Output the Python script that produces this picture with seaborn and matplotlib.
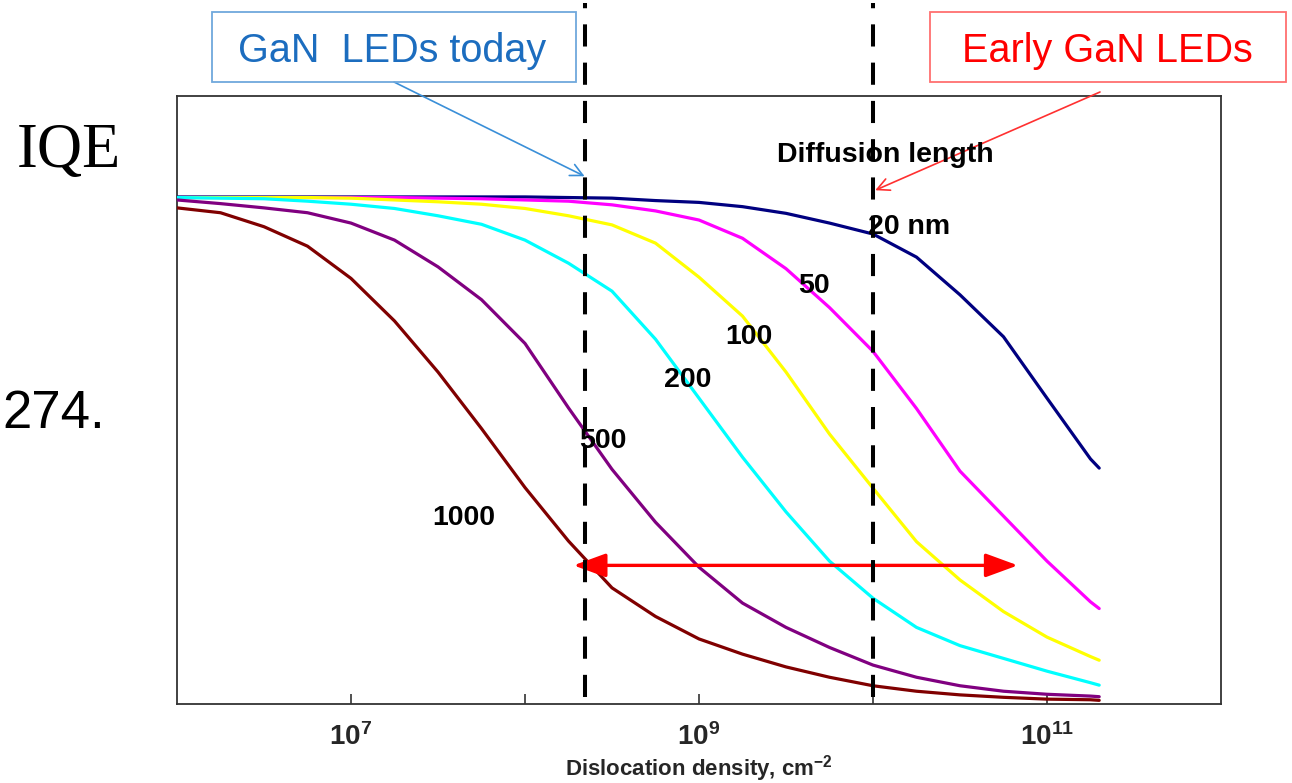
import numpy as np
import pandas as pd
import seaborn as sns
import matplotlib.pyplot as plt
from matplotlib.patches import Rectangle
from matplotlib.ticker import FixedLocator, NullLocator

# dislocation density grid (log10 of cm^-2) and IQE
LOG_DENSITY = [6.0, 6.25, 6.5, 6.75, 7.0, 7.25, 7.5, 7.75, 8.0, 8.25, 8.5, 8.75,
               9.0, 9.25, 9.5, 9.75, 10.0, 10.25, 10.5, 10.75, 11.0, 11.25, 11.3]

IQE_20 = [0.834, 0.834, 0.834, 0.834, 0.834, 0.834, 0.834, 0.834, 0.834, 0.833, 0.832, 0.828,
          0.825, 0.818, 0.807, 0.791, 0.773, 0.735, 0.673, 0.604, 0.503, 0.403, 0.388]
IQE_50 = [0.833, 0.833, 0.833, 0.833, 0.833, 0.833, 0.832, 0.831, 0.829, 0.827, 0.821, 0.811,
          0.796, 0.766, 0.716, 0.652, 0.580, 0.486, 0.383, 0.309, 0.235, 0.168, 0.157]
IQE_100 = [0.833, 0.833, 0.833, 0.833, 0.832, 0.829, 0.826, 0.822, 0.815, 0.803, 0.788, 0.758,
           0.702, 0.638, 0.546, 0.444, 0.355, 0.267, 0.204, 0.152, 0.110, 0.078, 0.072]
IQE_200 = [0.833, 0.832, 0.831, 0.827, 0.822, 0.815, 0.803, 0.789, 0.763, 0.725, 0.679, 0.600,
           0.503, 0.406, 0.316, 0.235, 0.174, 0.126, 0.096, 0.075, 0.054, 0.035, 0.031]
IQE_500 = [0.829, 0.823, 0.816, 0.808, 0.791, 0.763, 0.719, 0.665, 0.593, 0.487, 0.386, 0.299,
           0.225, 0.166, 0.126, 0.093, 0.064, 0.044, 0.030, 0.021, 0.016, 0.013, 0.012]
IQE_1000 = [0.816, 0.808, 0.785, 0.753, 0.700, 0.630, 0.546, 0.453, 0.356, 0.268, 0.191, 0.144,
            0.107, 0.082, 0.061, 0.044, 0.030, 0.021, 0.015, 0.011, 0.008, 0.007, 0.006]

LENGTHS = ['20', '50', '100', '200', '500', '1000']
COLORS = ['#000080', '#ff00ff', '#ffff00', '#00ffff', '#800080', '#800000']

TICKS = [1e7, 1e8, 1e9, 1e10, 1e11]
TICK_LABELS = [r'$\mathbf{10^{7}}$', '', r'$\mathbf{10^{9}}$', '', r'$\mathbf{10^{11}}$']

TODAY = 2.2e8
EARLY = 1e10


def main():
    sns.set_theme(style='white')
    plt.rcParams['font.family'] = ['Liberation Sans', 'DejaVu Sans']
    plt.rcParams['mathtext.fontset'] = 'custom'
    plt.rcParams['mathtext.rm'] = 'Liberation Sans'
    plt.rcParams['mathtext.bf'] = 'Liberation Sans:bold'

    density = 10 ** np.array(LOG_DENSITY)
    curves = [IQE_20, IQE_50, IQE_100, IQE_200, IQE_500, IQE_1000]
    df = pd.concat([pd.DataFrame({'density': density, 'iqe': c, 'length': n})
                    for n, c in zip(LENGTHS, curves)], ignore_index=True)

    W, H = 1292, 783
    fig = plt.figure(figsize=(W / 100, H / 100), dpi=100)
    ax = fig.add_axes([177 / W, 79 / H, 1044 / W, 608 / H])

    sns.lineplot(data=df, x='density', y='iqe', hue='length', hue_order=LENGTHS,
                 palette=dict(zip(LENGTHS, COLORS)), linewidth=2.3, legend=False,
                 ax=ax, zorder=3)

    ax.set_xscale('log')
    ax.set_xlim(1e6, 1e12)
    ax.set_ylim(0, 1)
    ax.xaxis.set_major_locator(FixedLocator(TICKS))
    ax.xaxis.set_minor_locator(NullLocator())
    ax.set_xticklabels(TICK_LABELS, fontsize=20)
    ax.set_yticks([])
    ax.tick_params(axis='x', direction='in', length=7, width=1.2, color='#333333',
                   pad=13.5, bottom=True)
    ax.set_ylabel('')
    ax.set_xlabel(r'Dislocation density, cm$^{\mathbf{-2}}$', fontsize=16,
                  fontweight='bold', labelpad=2)
    for s in ax.spines.values():
        s.set_color('#333333')
        s.set_linewidth(1.3)

    # dashed markers for today / early LEDs
    for xv in [TODAY, EARLY]:
        ax.axvline(xv, ymin=0.012, ymax=1.153, color='black', lw=2.9,
                   ls=(0, (5.5, 4)), clip_on=False, zorder=6)

    # curve labels
    lab = dict(fontsize=20.5, fontweight='bold', color='black', va='baseline', zorder=4)
    ax.text(1.17e10, 0.891, 'Diffusion length', ha='center', **lab)
    ax.text(9.36e9, 0.773, '20 nm', ha='left', **lab)
    ax.text(4.6e9, 0.676, '50', ha='center', **lab)
    ax.text(1.94e9, 0.592, '100', ha='center', **lab)
    ax.text(8.65e8, 0.521, '200', ha='center', **lab)
    ax.text(2.79e8, 0.4205, '500', ha='center', **lab)
    ax.text(4.42e7, 0.294, '1000', ha='center', **lab)

    # red range arrow
    ax.annotate('', xy=(6.8e10, 0.228), xytext=(1.9e8, 0.228),
                arrowprops=dict(arrowstyle='<|-|>,head_length=0.9,head_width=0.33',
                                color='#ff0000', lw=2.4, shrinkA=0, shrinkB=0,
                                mutation_scale=22), zorder=5)

    # callout boxes
    fig.add_artist(Rectangle((212 / W, 1 - 82 / H), 364 / W, 70 / H,
                             transform=fig.transFigure, fill=False,
                             edgecolor='#6fa8dc', lw=1.3))
    fig.text(392 / W, 1 - 62 / H, 'GaN  LEDs today', color='#1c6dbf',
             fontsize=28.5, ha='center', va='baseline')
    fig.add_artist(Rectangle((930 / W, 1 - 82 / H), 356 / W, 70 / H,
                             transform=fig.transFigure, fill=False,
                             edgecolor='#ff7070', lw=1.3))
    fig.text(1107 / W, 1 - 62 / H, 'Early GaN LEDs', color='#ff0000',
             fontsize=28.5, ha='center', va='baseline')

    ax.annotate('', xy=(TODAY, 0.868), xycoords='data',
                xytext=(394 / W, 1 - 82 / H), textcoords='figure fraction',
                arrowprops=dict(arrowstyle='->', color='#3a8fd8', lw=1.2,
                                shrinkA=0, shrinkB=0, mutation_scale=22),
                annotation_clip=False)
    ax.annotate('', xy=(1.03e10, 0.845), xycoords='data',
                xytext=(1100 / W, 1 - 92 / H), textcoords='figure fraction',
                arrowprops=dict(arrowstyle='->', color='#ff3030', lw=1.2,
                                shrinkA=0, shrinkB=0, mutation_scale=22),
                annotation_clip=False)

    # slide leftovers
    fig.text(17 / W, 1 - 167 / H, 'IQE', family=['Liberation Serif', 'DejaVu Serif'],
             fontsize=45, ha='left', va='baseline', color='black')
    fig.text(2 / W, 1 - 428 / H, '274.', fontsize=38, ha='left', va='baseline',
             color='black')

    fig.savefig('out.png', dpi=100)


if __name__ == '__main__':
    main()
